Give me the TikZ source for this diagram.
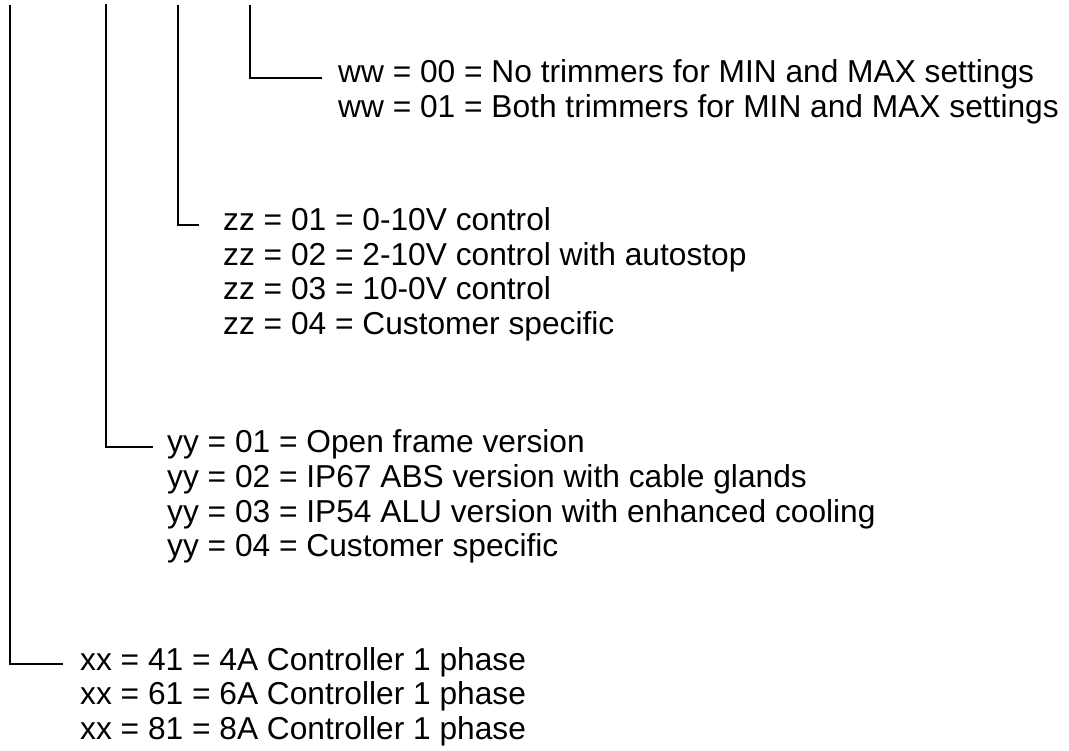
\documentclass[tikz,border=0pt]{standalone}
\usepackage{fontspec}
\setmainfont{Liberation Sans}
\begin{document}
\begin{tikzpicture}[x=1pt,y=-1pt,
  conn/.style={draw=black,line width=1.6pt},
  lbl/.style={anchor=base west,inner sep=0pt,font=\fontsize{31.7}{35}\selectfont}]
\useasboundingbox (0,0) rectangle (1069,751);
% ww
\coordinate (t4) at (250,5);
\coordinate (e4) at (322,78);
\node[lbl] (w1) at (338,83) {ww = 00 = No trimmers for MIN and MAX settings};
\node[lbl] (w2) at (338,117.5) {ww = 01 = Both trimmers for MIN and MAX settings};
% zz
\coordinate (t3) at (178,5);
\coordinate (e3) at (199,225);
\node[lbl] (z1) at (223,231) {zz = 01 = 0-10V control};
\node[lbl] (z2) at (223,265.5) {zz = 02 = 2-10V control with autostop};
\node[lbl] (z3) at (223,300) {zz = 03 = 10-0V control};
\node[lbl] (z4) at (223,334.5) {zz = 04 = Customer specific};
% yy
\coordinate (t2) at (106,4);
\coordinate (e2) at (153,447);
\node[lbl] (y1) at (167,453) {yy = 01 = Open frame version};
\node[lbl] (y2) at (167,487.5) {yy = 02 = IP67 ABS version with cable glands};
\node[lbl] (y3) at (167,522) {yy = 03 = IP54 ALU version with enhanced cooling};
\node[lbl] (y4) at (167,556.5) {yy = 04 = Customer specific};
% xx
\coordinate (t1) at (10,5);
\coordinate (e1) at (63,664);
\node[lbl] (x1) at (80,670) {xx = 41 = 4A Controller 1 phase};
\node[lbl] (x2) at (80,704.5) {xx = 61 = 6A Controller 1 phase};
\node[lbl] (x3) at (80,739) {xx = 81 = 8A Controller 1 phase};
% connectors
\draw[conn] (t4) |- (e4);
\draw[conn] (t3) |- (e3);
\draw[conn] (t2) |- (e2);
\draw[conn] (t1) |- (e1);
\end{tikzpicture}
\end{document}
